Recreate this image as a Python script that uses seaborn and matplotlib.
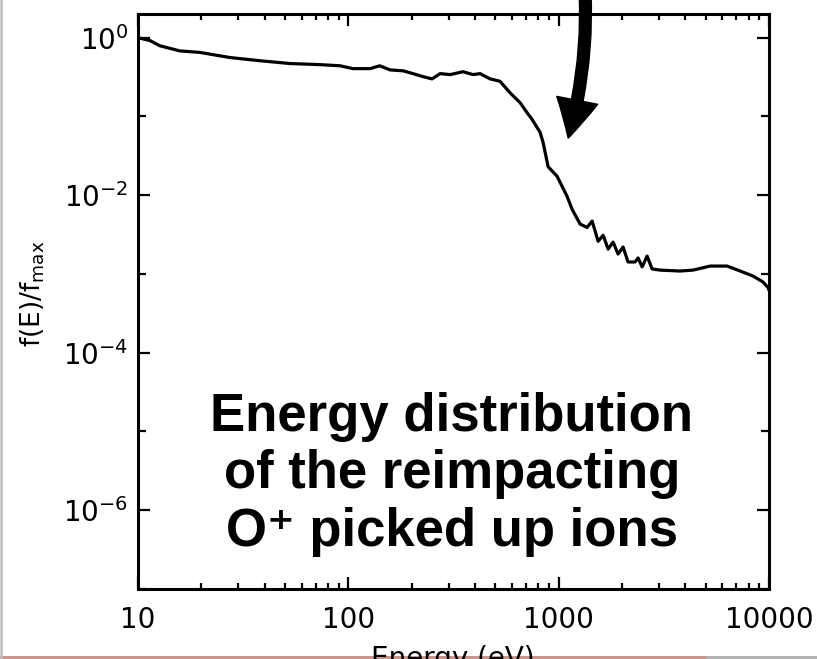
import numpy as np
import pandas as pd
import matplotlib
matplotlib.use("Agg")
import matplotlib.pyplot as plt
from matplotlib.ticker import FixedLocator, NullFormatter, FixedFormatter
from matplotlib.lines import Line2D
import seaborn as sns

# Energy distribution of re-impacting O+ pick-up ions
energy_ev = [10, 11.4, 12.7, 15.8, 19.7, 27.4, 38.0, 52.8, 73.3, 91.4,
             105, 127, 141, 158, 182, 203, 227, 250, 273, 305,
             351, 392, 423, 472, 526, 587, 655, 707, 747, 816,
             843, 891, 983, 1096, 1158, 1265, 1365, 1443, 1540, 1627,
             1719, 1815, 1916, 2024, 2137, 2307, 2386, 2493, 2633, 2780,
             3034, 3777, 4354, 5248, 6324, 7295, 8400, 9370, 9900, 10000]
f_norm = [1.0, 0.92, 0.79, 0.68, 0.65, 0.56, 0.51, 0.47, 0.455, 0.44,
          0.405, 0.405, 0.44, 0.39, 0.38, 0.35, 0.32, 0.30, 0.35, 0.34,
          0.37, 0.34, 0.35, 0.30, 0.28, 0.20, 0.15, 0.112, 0.092, 0.063,
          0.047, 0.023, 0.0174, 0.0097, 0.00665, 0.0043, 0.0039, 0.0047, 0.0026, 0.0031,
          0.00207, 0.00254, 0.00179, 0.0022, 0.00142, 0.00142, 0.0016, 0.00123, 0.00169, 0.00116,
          0.00112, 0.00109, 0.00112, 0.00126, 0.00126, 0.00109, 0.00094, 0.00079, 0.00067, 0.00062]

x_major = [10, 100, 1000, 10000]
x_major_labels = ["10", "100", "1000", "10000"]
y_major = [1e0, 1e-2, 1e-4, 1e-6]
y_major_labels = [r"$10^{0}$", r"$10^{-2}$", r"$10^{-4}$", r"$10^{-6}$"]
y_minor = [1e-1, 1e-3, 1e-5, 1e-7]

caption_lines = ["Energy distribution", "of the reimpacting", "O\u207a picked up ions"]

df = pd.DataFrame({"Energy": energy_ev, "f": f_norm})

sns.set_style("ticks")
plt.rcParams["font.family"] = ["DejaVu Sans"]
plt.rcParams["mathtext.fontset"] = "dejavusans"

fig = plt.figure(figsize=(8.17, 6.59), dpi=100)
ax = fig.add_axes([138 / 817, 1 - 589 / 659, (769 - 138) / 817, (589 - 14) / 659])

sns.lineplot(data=df, x="Energy", y="f", ax=ax, color="black", linewidth=2.3,
             estimator=None, sort=False)

ax.set_xscale("log")
ax.set_yscale("log")
ax.set_xlim(10, 10000)
ax.set_ylim(1e-7, 2.0)

ax.xaxis.set_major_locator(FixedLocator(x_major))
ax.xaxis.set_major_formatter(FixedFormatter(x_major_labels))
minor_x = [m * d for d in (10, 100, 1000) for m in range(2, 10)]
ax.xaxis.set_minor_locator(FixedLocator(minor_x))
ax.xaxis.set_minor_formatter(NullFormatter())

ax.yaxis.set_major_locator(FixedLocator(y_major))
ax.yaxis.set_major_formatter(FixedFormatter(y_major_labels))
ax.yaxis.set_minor_locator(FixedLocator(y_minor))
ax.yaxis.set_minor_formatter(NullFormatter())

ax.tick_params(which="both", direction="in", top=True, right=True,
               width=1.6, color="black", labelsize=20, labelcolor="black")
ax.tick_params(which="major", length=8.5)
ax.tick_params(axis="x", which="major", pad=12)
ax.tick_params(axis="y", which="major", pad=7)
ax.tick_params(axis="x", which="minor", length=4.5)
ax.tick_params(axis="y", which="minor", length=6)
for s in ax.spines.values():
    s.set_linewidth(2.2)
    s.set_color("black")

ax.set_xlabel("")
ax.set_ylabel("")
fig.text(33 / 817, 1 - 294 / 659, r"f(E)/f$_{\mathrm{max}}$", rotation=90,
         ha="center", va="center", fontsize=19, color="black")

# caption inside the panel
caption_baselines_px = [431, 488, 546]
for line, yb in zip(caption_lines, caption_baselines_px):
    fig.text(452 / 817, 1 - yb / 659, line, ha="center", va="baseline",
             fontsize=38, fontweight="bold", color="black",
             family=["Liberation Sans", "DejaVu Sans"])

# pointer arrow toward the steep drop near 1 keV
ax.annotate("", xy=(1110, 0.053), xytext=(1336, 3.6),
            xycoords="data", textcoords="data", annotation_clip=False,
            arrowprops=dict(arrowstyle="simple,head_width=3.0,head_length=2.8,tail_width=0.85",
                            mutation_scale=10, color="black",
                            connectionstyle="arc3,rad=-0.08", shrinkA=0, shrinkB=0))

fig.text(453 / 817, 1 - 645 / 659, "Energy (eV)", ha="center", va="top",
         fontsize=20, color="black")

# slide border lines
fig.add_artist(Line2D([0, 707 / 817], [1 - 657 / 659] * 2, transform=fig.transFigure,
                      color="#c8968c", linewidth=2.2))
fig.add_artist(Line2D([707 / 817, 1], [1 - 657 / 659] * 2, transform=fig.transFigure,
                      color="#b4b4b4", linewidth=2.2))
fig.add_artist(Line2D([1.2 / 817] * 2, [0, 1], transform=fig.transFigure,
                      color="#c0c0c0", linewidth=1.8))

fig.savefig("out.png", dpi=100)
